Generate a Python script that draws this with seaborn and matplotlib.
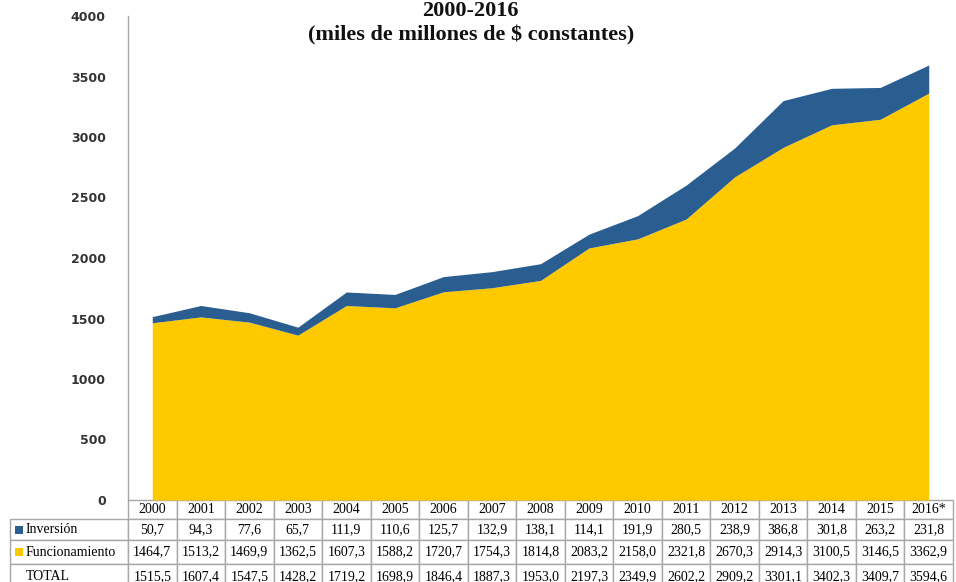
import numpy as np
import matplotlib.pyplot as plt
import seaborn as sns
from matplotlib.patches import Rectangle

# Data
years = ["2000", "2001", "2002", "2003", "2004", "2005", "2006", "2007", "2008",
         "2009", "2010", "2011", "2012", "2013", "2014", "2015", "2016*"]
inversion = [50.7, 94.3, 77.6, 65.7, 111.9, 110.6, 125.7, 132.9, 138.1,
             114.1, 191.9, 280.5, 238.9, 386.8, 301.8, 263.2, 231.8]
funcionamiento = [1464.7, 1513.2, 1469.9, 1362.5, 1607.3, 1588.2, 1720.7, 1754.3, 1814.8,
                  2083.2, 2158.0, 2321.8, 2670.3, 2914.3, 3100.5, 3146.5, 3362.9]
total = [1515.5, 1607.4, 1547.5, 1428.2, 1719.2, 1698.9, 1846.4, 1887.3, 1953.0,
         2197.3, 2349.9, 2602.2, 2909.2, 3301.1, 3402.3, 3409.7, 3594.6]
row_labels = ["Inversión", "Funcionamiento", "TOTAL"]

yellow = "#FFC900"
blue = "#2A5E90"
grid_grey = "#a8a8a8"

sns.set_style("white")

W, H = 956, 582
fig = plt.figure(figsize=(W / 100, H / 100), dpi=100)
ax = fig.add_axes([128 / W, (H - 500) / H, (953 - 128) / W, (500 - 16) / H])

x = np.arange(len(years))
ax.stackplot(x, funcionamiento, inversion, colors=[yellow, blue], linewidth=0)

ax.set_xlim(-0.5, len(years) - 0.5)
ax.set_ylim(0, 4000)
ax.set_yticks(range(0, 4001, 500))
ax.set_xticks([])
ax.tick_params(axis="y", length=0, pad=16, labelsize=9, labelcolor="#333333")
for lab in ax.get_yticklabels():
    lab.set_fontweight("bold")
    lab.set_family("DejaVu Sans")
for side in ["top", "right", "bottom"]:
    ax.spines[side].set_visible(False)
ax.spines["left"].set_color(grid_grey)
ax.spines["left"].set_linewidth(1.0)

# Title
fig.text(470 / W, 1 - 11 / H, "2000-2016", ha="center", va="center",
         family="Liberation Serif", fontweight="bold", fontsize=16, color="#111111")
fig.text(471 / W, 1 - 35 / H, "(miles de millones de $ constantes)", ha="center", va="center",
         family="Liberation Serif", fontweight="bold", fontsize=16, color="#111111")

# Data table beneath the plot
fmt = lambda v: f"{v:.1f}".replace(".", ",")
cell_text = [[""] + years]
for lab, vals in zip(row_labels, [inversion, funcionamiento, total]):
    cell_text.append([lab] + [fmt(v) for v in vals])

label_w = 118
col_w = (953 - 128) / len(years)
widths = [label_w] + [col_w] * len(years)
widths = [w / sum(widths) for w in widths]
row_h = [19, 21, 24, 26]

tab_w = (953 - 10) / (953 - 128)
tab_h = sum(row_h) / (500 - 16)
table = ax.table(cellText=cell_text, colWidths=widths, cellLoc="center",
                 bbox=[-label_w / (953 - 128), -tab_h, tab_w, tab_h])
table.auto_set_font_size(False)
table.set_fontsize(10)
for (r, c), cell in table.get_celld().items():
    cell.set_height(row_h[r])
    cell.set_edgecolor(grid_grey)
    cell.set_linewidth(1.0)
    cell.get_text().set_family("Liberation Serif")
    cell.get_text().set_color("#000000")
    if c == 0:
        cell._loc = "left"
        cell.PAD = 16 / label_w
        cell.get_text().set_ha("left")
    if r == 0 and c == 0:
        cell.visible_edges = ""

# Legend squares in the row labels
for yc, col in [(529.5, blue), (552, yellow)]:
    fig.add_artist(Rectangle((15 / W, 1 - (yc + 4) / H), 8 / W, 8 / H,
                             transform=fig.transFigure, color=col, lw=0))

fig.savefig("out.png", dpi=100)
